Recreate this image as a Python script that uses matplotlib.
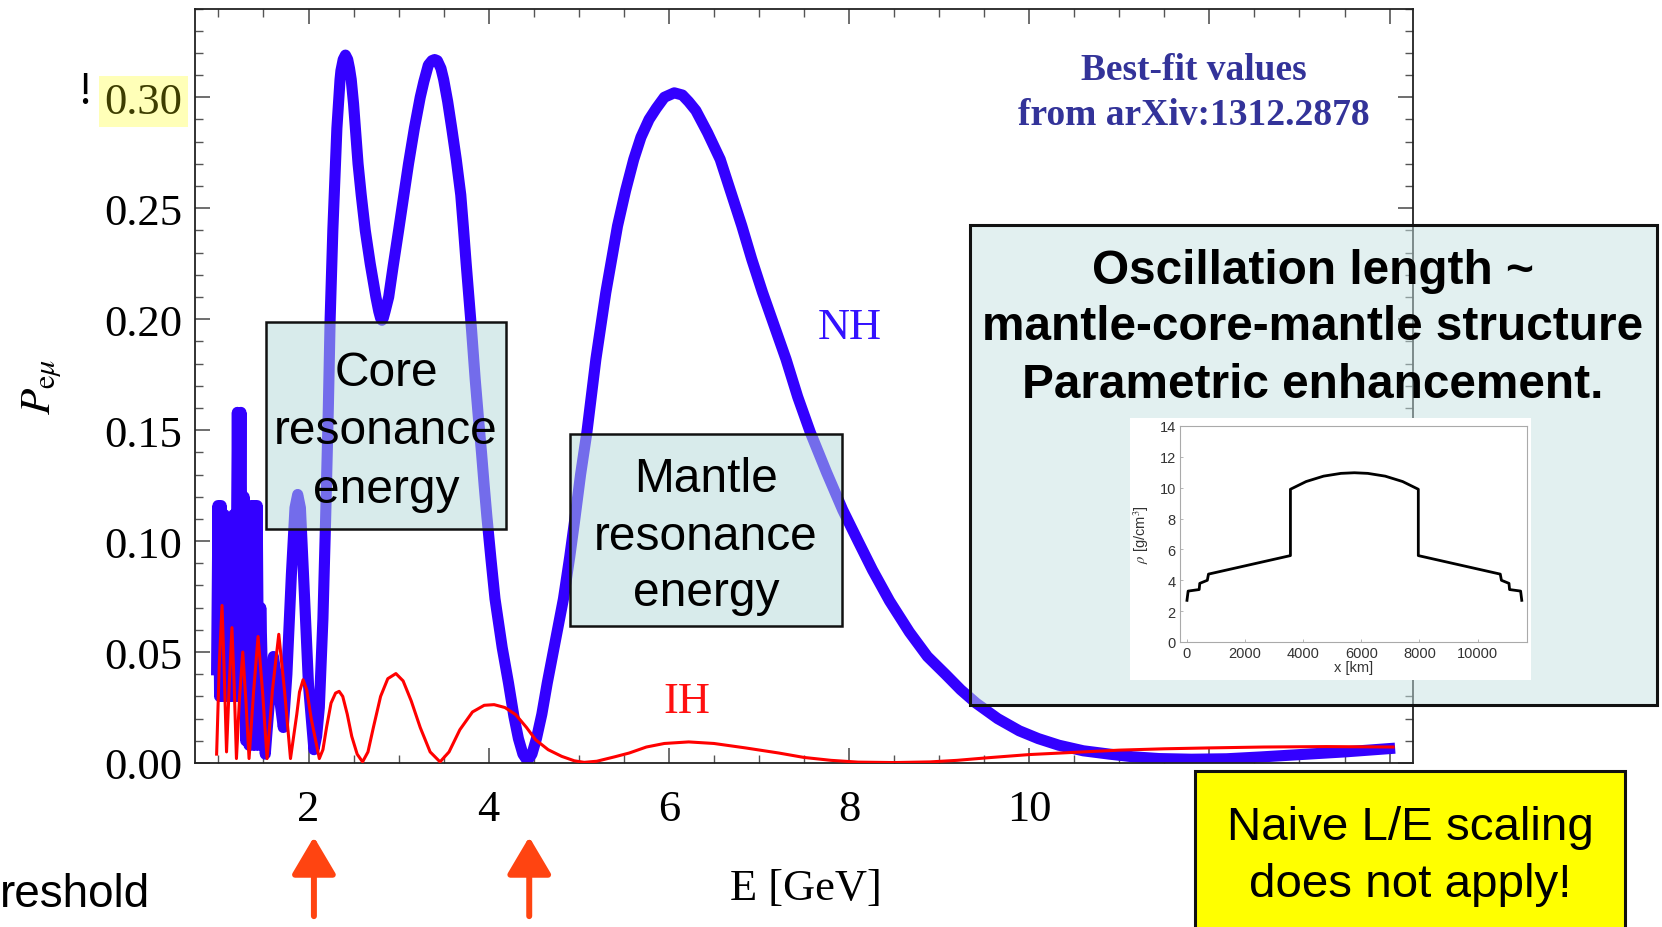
import matplotlib
matplotlib.use('Agg')
import matplotlib.pyplot as plt
from matplotlib.patches import Rectangle
from matplotlib.ticker import MultipleLocator, FuncFormatter

W, H = 1662, 928

# NH curve (blue)
nh_E = [0.98, 0.995, 1.013, 1.03, 1.048, 1.065, 1.083, 1.10, 1.118, 1.135, 1.153, 1.17, 1.19, 1.21, 1.228,
        1.25, 1.268, 1.285, 1.303, 1.32, 1.34, 1.36, 1.378, 1.395, 1.413, 1.43, 1.45, 1.47, 1.50, 1.52,
        1.57, 1.61, 1.66, 1.72, 1.76, 1.81, 1.85, 1.88, 1.91, 1.95, 2.00, 2.06, 2.09, 2.12, 2.16,
        2.19, 2.22, 2.24, 2.27, 2.295, 2.315, 2.35, 2.36, 2.385, 2.41, 2.435, 2.455, 2.474, 2.50, 2.52,
        2.55, 2.585, 2.63, 2.685, 2.748, 2.78, 2.80, 2.815, 2.83, 2.85, 2.89, 2.94, 3.00, 3.055, 3.11,
        3.175, 3.24, 3.28, 3.33, 3.37, 3.40, 3.43, 3.47, 3.50, 3.545, 3.59, 3.64, 3.69, 3.72, 3.75,
        3.78, 3.81, 3.85, 3.885, 3.92, 3.95, 3.98, 4.025, 4.07, 4.15, 4.22, 4.28, 4.33, 4.38, 4.43,
        4.48, 4.53, 4.59, 4.65, 4.74, 4.83, 4.90, 4.95, 5.02, 5.09, 5.19, 5.30, 5.43, 5.52, 5.61,
        5.69, 5.78, 5.86, 5.95, 6.06, 6.15, 6.22, 6.30, 6.43, 6.57, 6.69, 6.81, 6.92, 7.04, 7.17,
        7.30, 7.43, 7.57, 7.75, 7.93, 8.10, 8.26, 8.45, 8.67, 8.87, 9.07, 9.24, 9.41, 9.65, 9.89,
        10.1, 10.33, 10.6, 10.89, 11.15, 11.44, 11.8, 12.19, 12.56, 13.0, 13.5, 14.0]
nh_P = [0.042, 0.116, 0.030, 0.116, 0.030, 0.112, 0.030, 0.110, 0.030, 0.110, 0.030, 0.112, 0.030, 0.158, 0.030,
        0.158, 0.030, 0.120, 0.010, 0.108, 0.008, 0.116, 0.008, 0.116, 0.008, 0.116, 0.008, 0.070, 0.020, 0.004,
        0.030, 0.048, 0.035, 0.016, 0.040, 0.085, 0.115, 0.121, 0.115, 0.080, 0.035, 0.006, 0.012, 0.025, 0.065,
        0.110, 0.160, 0.200, 0.240, 0.265, 0.286, 0.308, 0.312, 0.317, 0.319, 0.317, 0.313, 0.308, 0.297, 0.286,
        0.270, 0.256, 0.240, 0.225, 0.210, 0.2035, 0.2005, 0.1995, 0.2005, 0.2035, 0.210, 0.224, 0.240, 0.255, 0.270,
        0.286, 0.300, 0.307, 0.3145, 0.3165, 0.317, 0.3165, 0.313, 0.308, 0.298, 0.286, 0.272, 0.256, 0.241, 0.225,
        0.210, 0.195, 0.173, 0.156, 0.140, 0.125, 0.111, 0.092, 0.074, 0.052, 0.036, 0.021, 0.011, 0.004, 0.001,
        0.004, 0.011, 0.022, 0.036, 0.055, 0.074, 0.093, 0.108, 0.130, 0.149, 0.182, 0.212, 0.242, 0.258, 0.272,
        0.282, 0.290, 0.295, 0.300, 0.302, 0.301, 0.298, 0.294, 0.284, 0.272, 0.257, 0.242, 0.227, 0.212, 0.197,
        0.182, 0.165, 0.149, 0.131, 0.114, 0.100, 0.087, 0.073, 0.059, 0.048, 0.040, 0.033, 0.027, 0.020, 0.0145,
        0.011, 0.008, 0.0055, 0.004, 0.0028, 0.002, 0.0017, 0.0019, 0.0027, 0.0038, 0.005, 0.0065]

# IH curve (red)
ih_E = [0.98, 1.01, 1.04, 1.065, 1.09, 1.12, 1.15, 1.175, 1.20, 1.235, 1.27, 1.305, 1.34, 1.39, 1.44, 1.49,
        1.54, 1.60, 1.67, 1.735, 1.80, 1.87, 1.90, 1.94, 1.98, 2.03, 2.12, 2.16, 2.20, 2.25, 2.30, 2.34,
        2.38, 2.43, 2.48, 2.54, 2.60, 2.66, 2.72, 2.80, 2.88, 2.97, 3.05, 3.14, 3.24, 3.35, 3.46, 3.56,
        3.68, 3.82, 3.95, 4.06, 4.18, 4.30, 4.42, 4.52, 4.66, 4.81, 4.95, 5.06, 5.20, 5.40, 5.56, 5.75,
        5.95, 6.22, 6.50, 6.85, 7.22, 7.50, 7.80, 8.10, 8.50, 8.90, 9.20, 9.52, 10.0, 10.5, 11.0, 11.5,
        12.0, 12.6, 13.3, 14.04]
ih_P = [0.004, 0.045, 0.071, 0.040, 0.005, 0.035, 0.061, 0.035, 0.002, 0.030, 0.050, 0.028, 0.002, 0.032, 0.057, 0.032,
        0.002, 0.033, 0.058, 0.032, 0.002, 0.022, 0.032, 0.0375, 0.033, 0.020, 0.002, 0.006, 0.016, 0.027, 0.0315, 0.0323,
        0.030, 0.022, 0.012, 0.004, 0.0005, 0.005, 0.016, 0.030, 0.038, 0.0403, 0.037, 0.028, 0.016, 0.005, 0.0005, 0.005,
        0.015, 0.023, 0.026, 0.0263, 0.025, 0.0218, 0.016, 0.0105, 0.006, 0.003, 0.001, 0.0003, 0.0008, 0.0028, 0.0045, 0.0072,
        0.0088, 0.0095, 0.0088, 0.0068, 0.0045, 0.0025, 0.0012, 0.0004, 0.0002, 0.0005, 0.0012, 0.0023, 0.0038, 0.0048, 0.0058, 0.0064,
        0.0068, 0.0072, 0.0074, 0.0072]

# earth density along the path (inset)
rho_x = [0, 40, 420, 440, 700, 740, 3560, 3560, 4100, 4700, 5300, 5760, 6220, 6820, 7420, 7960, 7960,
         10780, 10820, 11080, 11100, 11480, 11520]
rho_y = [2.7, 3.3, 3.4, 3.8, 4.0, 4.4, 5.6, 9.9, 10.4, 10.75, 10.93, 10.97, 10.93, 10.75, 10.4, 9.9, 5.6,
         4.4, 4.0, 3.8, 3.4, 3.3, 2.7]

arrow_E = [2.06, 4.45]

SERIF = 'Liberation Serif'
SANS = 'Liberation Sans'
plt.rcParams['font.family'] = SERIF
plt.rcParams['mathtext.fontset'] = 'stix'


def fx(px):
    return px / W


def fy(py):
    return 1 - py / H


def box(x0, y0, x1, y1, fc, alpha=1.0, lw=2.0, z=6):
    r = Rectangle((fx(x0), fy(y1)), fx(x1) - fx(x0), fy(y0) - fy(y1), transform=fig.transFigure,
                  facecolor=fc, edgecolor='none', alpha=alpha, zorder=z)
    fig.add_artist(r)
    e = Rectangle((fx(x0), fy(y1)), fx(x1) - fx(x0), fy(y0) - fy(y1), transform=fig.transFigure,
                  facecolor='none', edgecolor='#111111', lw=lw, zorder=z + 0.1)
    fig.add_artist(e)


def lines(xc, ys, txt, size, weight='normal', z=7):
    for y, t in zip(ys, txt):
        fig.text(fx(xc), fy(y), t, ha='center', va='center', fontsize=size, family=SANS,
                 fontweight=weight, zorder=z)


fig = plt.figure(figsize=(W / 100, H / 100), dpi=100)
ax = fig.add_axes([fx(195), fy(764), fx(1413) - fx(195), fy(9.5) - fy(764)])

ax.plot(nh_E, nh_P, color='#3300ff', lw=8, solid_joinstyle='round', zorder=2)
ax.plot(ih_E, ih_P, color='#ff0000', lw=2.2, zorder=3)

ax.set_xlim(0.74, 14.26)
ax.set_ylim(0, 0.34)
ax.xaxis.set_major_locator(MultipleLocator(2))
ax.xaxis.set_minor_locator(MultipleLocator(0.5))
ax.yaxis.set_major_locator(MultipleLocator(0.05))
ax.yaxis.set_minor_locator(MultipleLocator(0.01))
# 12 and 14 sit under the yellow box in the original
ax.xaxis.set_major_formatter(FuncFormatter(lambda v, p: '%d' % v if v < 11 else ''))
ax.yaxis.set_major_formatter(FuncFormatter(lambda v, p: '%.2f' % v))
ax.tick_params(which='both', direction='in', top=True, right=True, colors='#555555', labelcolor='black',
               labelsize=32)
ax.tick_params(which='major', length=11, width=1.2)
ax.tick_params(which='minor', length=6, width=1.0)
ax.tick_params(axis='x', pad=19)
ax.tick_params(axis='y', pad=9)
for s in ax.spines.values():
    s.set_color('#222222')
    s.set_linewidth(1.3)

fig.canvas.draw()
for lab in ax.get_yticklabels():
    if lab.get_text() == '0.30':
        lab.set_color('#3d3d00')
        lab.set_bbox(dict(facecolor='#ffffb8', edgecolor='none', pad=4))

fig.text(fx(85), fy(93), '!', ha='center', va='center', fontsize=33)
fig.text(fx(42), fy(387), r'$P_{\mathrm{e}\mu}$', rotation=90, ha='center', va='center', fontsize=31)
fig.text(fx(806), fy(889), 'E [GeV]', ha='center', va='center', fontsize=32)

fig.text(fx(1194), fy(93), 'Best-fit values\nfrom arXiv:1312.2878', ha='center', va='center',
         fontsize=27, fontweight='bold', color='#333399', linespacing=1.38)
fig.text(fx(850), fy(328), 'NH', ha='center', va='center', fontsize=32, color='#3311ff')
fig.text(fx(687), fy(702), 'IH', ha='center', va='center', fontsize=32, color='#ff1010')

# annotation boxes
box(266, 323, 506, 530, '#b3d9d9', alpha=0.5, lw=1.8)
lines(386, [374, 432, 491], ['Core', 'resonance', 'energy'], 34.5)
box(570, 435, 842, 627, '#b3d9d9', alpha=0.5, lw=1.8)
lines(706, [480, 537, 594], ['Mantle', 'resonance', 'energy'], 34.5)

box(970, 226, 1657, 706, '#c7e3e3', alpha=0.5, lw=2.2)
lines(1313, [271, 328, 386], ['Oscillation length ~', 'mantle-core-mantle structure', 'Parametric enhancement.'],
      34.4, weight='bold')

fig.add_artist(Rectangle((fx(1130), fy(681)), fx(1531) - fx(1130), fy(419) - fy(681), transform=fig.transFigure,
                         facecolor='white', edgecolor='none', zorder=8))
ins = fig.add_axes([fx(1180), fy(643), fx(1527) - fx(1180), fy(427) - fy(643)], zorder=9)
ins.plot(rho_x, rho_y, color='black', lw=2.0)
ins.set_xlim(-240, 11700)
ins.set_ylim(0, 14)
ins.set_xticks([0, 2000, 4000, 6000, 8000, 10000])
ins.set_yticks([0, 2, 4, 6, 8, 10, 12, 14])
ins.tick_params(direction='in', length=2, width=0.6, colors='#aaaaaa', labelcolor='#333333', labelsize=10.5, pad=3)
for lab in ins.get_xticklabels() + ins.get_yticklabels():
    lab.set_family(SANS)
for s in ins.spines.values():
    s.set_color('#aaaaaa')
    s.set_linewidth(0.8)
ins.set_xlabel('x [km]', fontsize=10.5, family=SANS, color='#333333', labelpad=0)
ins.set_ylabel(r'$\rho$ [g/cm$^3$]', fontsize=10.5, family=SANS, color='#333333', labelpad=6)

box(1195, 772, 1625, 945, '#ffff00', lw=2.2, z=10)
lines(1410, [828, 885], ['Naive L/E scaling', 'does not apply!'], 34.2, z=11)

fig.text(0.0, fy(895), 'reshold', ha='left', va='center', fontsize=33, family=SANS)

for e in arrow_E:
    ax.annotate('', xy=(e, -0.098), xytext=(e, -0.203), xycoords=ax.get_xaxis_transform(),
                arrowprops=dict(arrowstyle='-|>,head_length=1.15,head_width=0.68', mutation_scale=20,
                                lw=4.3, color='#ff4411', shrinkA=0, shrinkB=0),
                annotation_clip=False)

fig.savefig('out.png', dpi=100)
